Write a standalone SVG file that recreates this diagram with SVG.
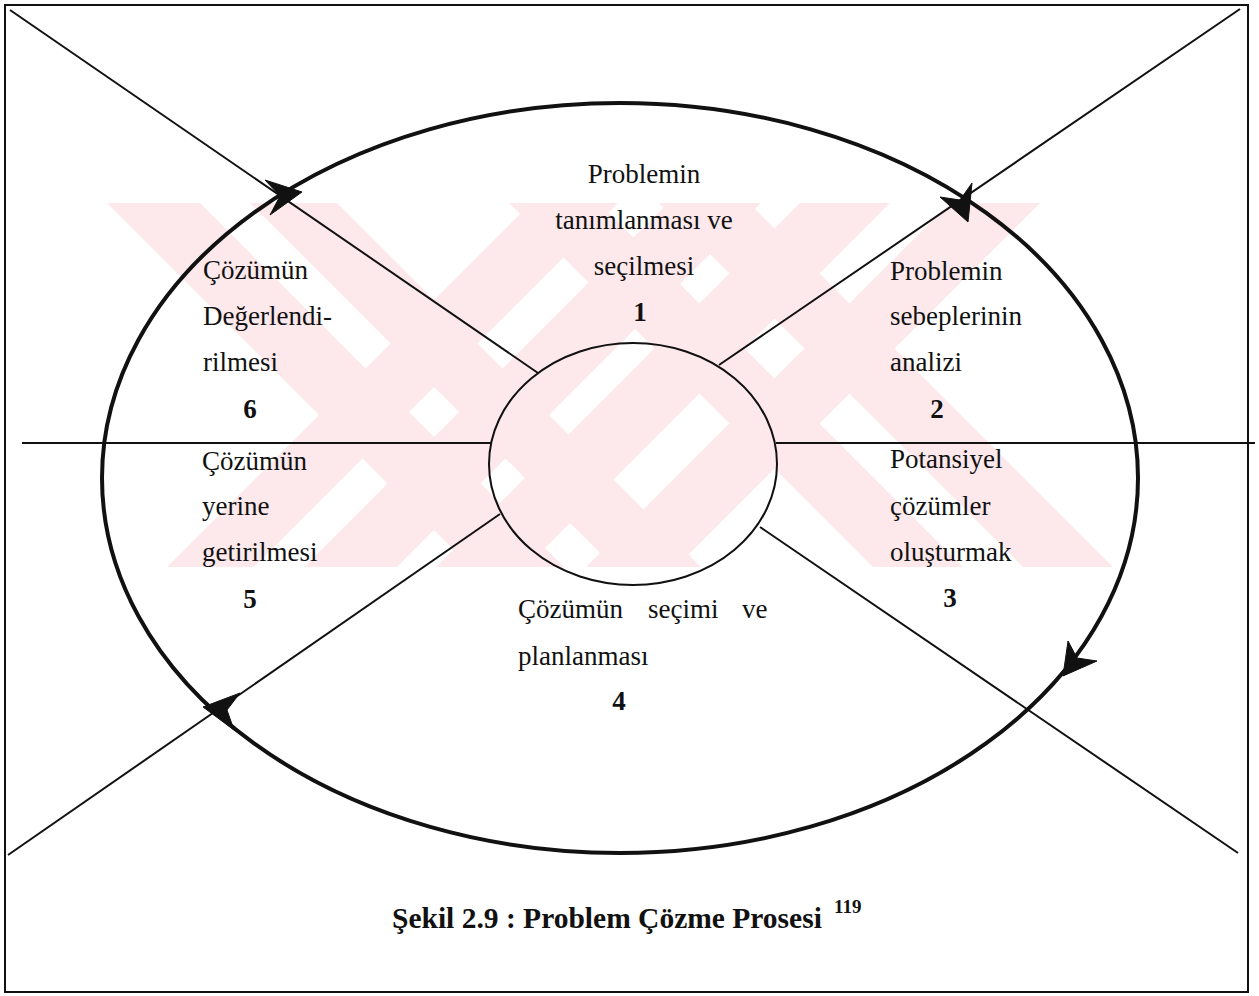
<svg xmlns="http://www.w3.org/2000/svg" width="1259" height="996" viewBox="0 0 1259 996">
  <style>
    .lbl { font-family: "Liberation Serif", "Times New Roman", serif; font-size: 27px; fill: #111; }
    .num { font-family: "Liberation Serif", "Times New Roman", serif; font-size: 27px; font-weight: bold; fill: #111; }
    .cap { font-family: "Liberation Serif", "Times New Roman", serif; font-size: 29.5px; font-weight: bold; fill: #111; }
    .sup { font-family: "Liberation Serif", "Times New Roman", serif; font-size: 19px; font-weight: bold; fill: #111; }
    .thin { stroke: #111; stroke-width: 2; fill: none; }
    .head { fill: #111; stroke: #111; stroke-width: 1; stroke-linejoin: miter; }
    .mark { fill: #fde8ec; }
  </style>
  <defs>
    <clipPath id="markClip">
      <rect x="0" y="203" width="1259" height="364"/>
    </clipPath>
  </defs>

  <rect x="0" y="0" width="1259" height="996" fill="#ffffff"/>

  <!-- pale background emblem -->
  <g id="emblem" clip-path="url(#markClip)">
    <polygon class="mark" points="107,203 200,203 564,567 471,567"/>
    <polygon class="mark" points="250,203 337,203 701,567 614,567"/>
    <polygon class="mark" points="531,203 618,203 254,567 167,567"/>
    <polygon class="mark" points="668,203 761,203 397,567 304,567"/>
    <polygon class="mark" points="800,203 890,203 526,567 436,567"/>
    <polygon class="mark" points="950,203 1040,203 676,567 586,567"/>
    <polygon class="mark" points="659,203 749,203 1113,567 1023,567"/>
    <polygon class="mark" points="509,203 599,203 963,567 873,567"/>
  </g>

  <!-- outer frame -->
  <rect id="frame" x="5" y="5" width="1243" height="987" fill="none" stroke="#111" stroke-width="2"/>

  <!-- dividing lines and arrowheads of the cycle -->
  <g id="connectors">
    <line class="thin" x1="10" y1="10" x2="538" y2="373"/>
    <line class="thin" x1="1240" y1="9" x2="719" y2="365"/>
    <line class="thin" x1="760" y1="527" x2="1238" y2="853"/>
    <line class="thin" x1="8" y1="855" x2="500" y2="514"/>
    <line class="thin" x1="22" y1="443" x2="491" y2="443"/>
    <line class="thin" x1="776" y1="443" x2="1255" y2="443"/>
    <polygon class="head" points="302,192 265,180 280,196 270,215"/>
    <polygon class="head" points="968,222 940,197 960,200 972,183"/>
    <polygon class="head" points="1063,676 1068,641 1077,658 1097,661"/>
    <polygon class="head" points="203,707 240,693 227,710 234,730"/>
  </g>

  <!-- process cycle -->
  <g id="cycle">
    <ellipse cx="620" cy="478" rx="518" ry="375" fill="none" stroke="#111" stroke-width="4"/>
  </g>

  <!-- central hub -->
  <g id="hub">
    <ellipse cx="633" cy="464" rx="144" ry="121" fill="none" stroke="#111" stroke-width="2"/>
  </g>

  <g id="stage1">
    <text class="lbl" x="644" y="183" text-anchor="middle">Problemin</text>
    <text class="lbl" x="644" y="229" text-anchor="middle">tanımlanması ve</text>
    <text class="lbl" x="644" y="275" text-anchor="middle">seçilmesi</text>
    <text class="num" x="640" y="321" text-anchor="middle">1</text>
  </g>

  <g id="stage2">
    <text class="lbl" x="890" y="280">Problemin</text>
    <text class="lbl" x="890" y="325">sebeplerinin</text>
    <text class="lbl" x="890" y="371">analizi</text>
    <text class="num" x="937" y="418" text-anchor="middle">2</text>
  </g>

  <g id="stage3">
    <text class="lbl" x="890" y="468">Potansiyel</text>
    <text class="lbl" x="890" y="515">çözümler</text>
    <text class="lbl" x="890" y="561">oluşturmak</text>
    <text class="num" x="950" y="607" text-anchor="middle">3</text>
  </g>

  <g id="stage4">
    <text class="lbl" x="518" y="618">Çözümün</text>
    <text class="lbl" x="648" y="618">seçimi</text>
    <text class="lbl" x="742" y="618">ve</text>
    <text class="lbl" x="518" y="665">planlanması</text>
    <text class="num" x="619" y="710" text-anchor="middle">4</text>
  </g>

  <g id="stage5">
    <text class="lbl" x="202" y="470">Çözümün</text>
    <text class="lbl" x="202" y="515">yerine</text>
    <text class="lbl" x="202" y="561">getirilmesi</text>
    <text class="num" x="250" y="608" text-anchor="middle">5</text>
  </g>

  <g id="stage6">
    <text class="lbl" x="203" y="279">Çözümün</text>
    <text class="lbl" x="203" y="325">Değerlendi-</text>
    <text class="lbl" x="203" y="371">rilmesi</text>
    <text class="num" x="250" y="418" text-anchor="middle">6</text>
  </g>

  <g id="caption">
    <text class="cap" x="392" y="928">Şekil 2.9 : Problem Çözme Prosesi</text>
    <text class="sup" x="834" y="913">119</text>
  </g>
</svg>
